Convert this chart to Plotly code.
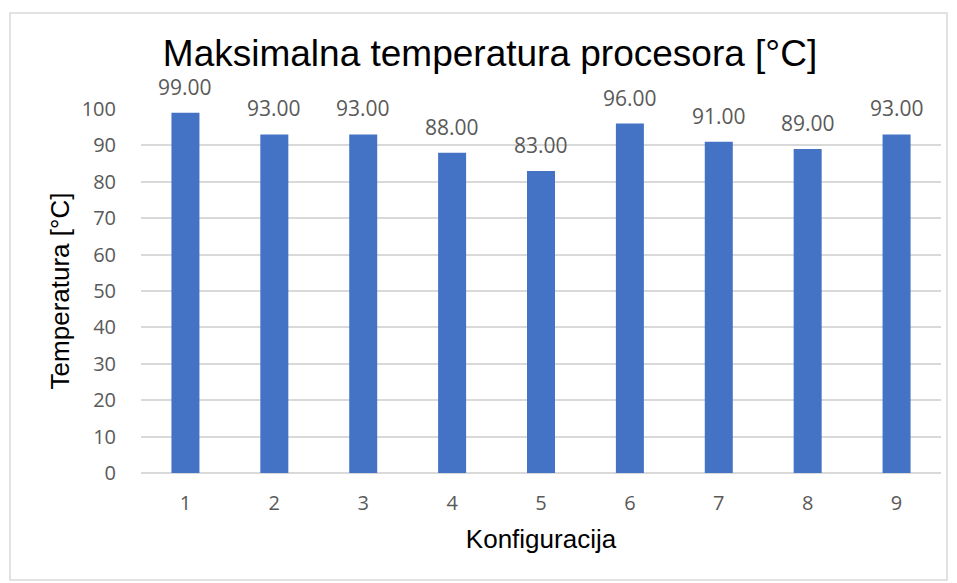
import plotly.graph_objects as go

categories = ["1", "2", "3", "4", "5", "6", "7", "8", "9"]
values = [99, 93, 93, 88, 83, 96, 91, 89, 93]
y_ticks = [0, 10, 20, 30, 40, 50, 60, 70, 80, 90, 100]

title_text = "Maksimalna temperatura procesora [°C]"
x_title = "Konfiguracija"
y_title = "Temperatura [°C]"

# page offset (browser body margin)
OFF = 8
W, H = 957 - OFF, 583 - OFF
PL, PR, PT, PB = 141, 941, 109, 473  # plot area on screen

fig = go.Figure()
fig.add_trace(go.Bar(
    x=categories, y=values,
    marker=dict(color="#4472C4", line=dict(width=0)),
    width=0.315,
    hoverinfo="x+y",
))

for i, (c, v) in enumerate(zip(categories, values)):
    fig.add_annotation(
        x=i, y=v, text=f"{v:.2f}", showarrow=False,
        yanchor="bottom", yshift=10,
        font=dict(family="Open Sans, sans-serif", size=21, color="#595959"),
    )

fig.update_layout(
    width=W, height=H,
    margin=dict(l=PL - OFF, r=957 - PR, t=PT - OFF, b=H - (PB - OFF)),
    paper_bgcolor="white", plot_bgcolor="white",
    showlegend=False,
    title=dict(
        text=title_text, x=(490 - OFF) / W, xref="container", xanchor="center",
        y=1 - (53 - OFF) / H, yref="container", yanchor="middle",
        font=dict(family="Liberation Sans, Arial, sans-serif", size=37, color="#000000"),
    ),
    xaxis=dict(
        type="category", range=[-0.5, len(categories) - 0.5],
        showgrid=False, showline=False, zeroline=False,
        ticks="outside", ticklen=12, tickcolor="rgba(0,0,0,0)",
        tickfont=dict(family="Open Sans, sans-serif", size=20, color="#595959"),
        title=dict(text=x_title, standoff=14,
                   font=dict(family="Liberation Sans, Arial, sans-serif", size=26, color="#000000")),
    ),
    yaxis=dict(
        range=[0, 100], tickvals=y_ticks,
        showgrid=True, gridcolor="#D9D9D9", gridwidth=1.5,
        zeroline=True, zerolinecolor="#D9D9D9", zerolinewidth=1.5,
        showline=False,
        ticks="outside", ticklen=20, tickcolor="rgba(0,0,0,0)",
        tickfont=dict(family="Open Sans, sans-serif", size=20, color="#595959"),
        title=dict(text=y_title, standoff=4,
                   font=dict(family="Liberation Sans, Arial, sans-serif", size=26, color="#000000")),
    ),
    shapes=[dict(
        type="rect", xref="paper", yref="paper",
        x0=(10 - PL) / (PR - PL), x1=(947 - PL) / (PR - PL),
        y0=(PB - 580) / (PB - PT), y1=(PB - 13) / (PB - PT),
        line=dict(color="#D9D9D9", width=1.5), fillcolor="rgba(0,0,0,0)", layer="below",
    )],
)

fig.write_html("out.html")
